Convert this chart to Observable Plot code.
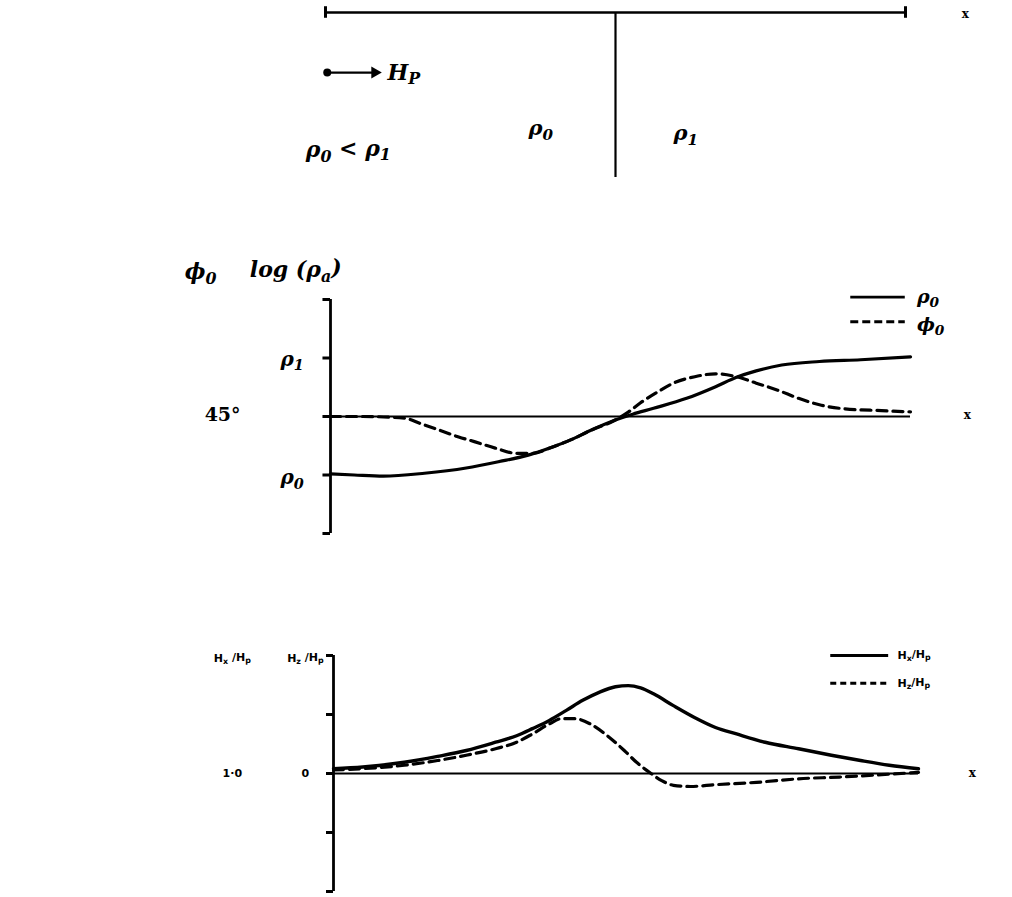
<!DOCTYPE html>
<html>
<head>
<meta charset="utf-8">
<script src="https://cdn.jsdelivr.net/npm/d3@7"></script>
<script src="https://cdn.jsdelivr.net/npm/@observablehq/plot@0.6"></script>
<style>
  body { margin: 0; background: #fff; }
  #wrap { position: relative; width: 1012px; height: 897px; overflow: hidden; }
  .panel { position: absolute; left: 0; }
</style>
</head>
<body>
<div id="wrap">
  <div class="panel" id="p1" style="top:0px"></div>
  <div class="panel" id="p2" style="top:240px"></div>
  <div class="panel" id="p3" style="top:600px"></div>
</div>
<script>
// ---------- data ----------
// Panel 2: apparent resistivity log(rho_a) and phase phi across a vertical contact at x = 5
const rhoX = [0, 0.41, 0.91, 1.62, 2.34, 2.91, 3.41, 3.78, 4.14, 4.48, 4.91, 5.21, 5.57, 6.14, 6.64, 7.0, 7.34, 7.78, 8.43, 9.14, 10];
const rhoY = [0.02, 0, -0.02, 0.03, 0.12, 0.23, 0.34, 0.46, 0.6, 0.76, 0.94, 1.04, 1.14, 1.31, 1.51, 1.67, 1.78, 1.88, 1.94, 1.97, 2.02];
const phiX = [0, 0.55, 1.28, 1.55, 1.84, 2.21, 2.48, 2.84, 3.21, 3.48, 3.78, 4.14, 4.48, 4.91, 5.14, 5.34, 5.64, 5.91, 6.28, 6.64, 7.0, 7.34, 7.71, 8.07, 8.43, 8.78, 9.5, 10];
const phiY = [1.0, 1.0, 0.97, 0.88, 0.78, 0.65, 0.57, 0.46, 0.37, 0.37, 0.46, 0.6, 0.76, 0.94, 1.08, 1.23, 1.42, 1.57, 1.68, 1.73, 1.68, 1.57, 1.45, 1.31, 1.2, 1.14, 1.1, 1.08];
const p2Ticks = [-1, 0, 1, 2, 3];
const p2TickLabels = [
  {x: -0.66, y: 1.97, t: "ρ_1"},
  {x: -0.66, y: -0.05, t: "ρ_0"}
];
const p2Degree = [{x: -1.86, y: 1.03, t: "45°"}];
const p2AxisTitles = [
  {x: -2.24, y: 3.47, t: "ϕ_0"},
  {x: -0.6, y: 3.5, t: "log (ρ_a)"}
];
const p2LegendSolid  = [{x1: 8.97, x2: 9.91, y: 3.04, t: "ρ_0"}];
const p2LegendDashed = [{x1: 8.97, x2: 9.91, y: 2.62, t: "ϕ_0"}];

// Panel 3: normalised magnetic field components
const hxX = [0, 0.5, 1.21, 1.78, 2.27, 2.77, 3.13, 3.4, 3.69, 3.98, 4.26, 4.55, 4.82, 5.04, 5.25, 5.47, 5.81, 6.17, 6.53, 6.89, 7.38, 7.95, 8.51, 9.01, 9.5, 10];
const hxY = [0.08, 0.11, 0.19, 0.29, 0.39, 0.53, 0.64, 0.76, 0.9, 1.07, 1.24, 1.38, 1.47, 1.49, 1.45, 1.35, 1.15, 0.95, 0.78, 0.67, 0.53, 0.42, 0.31, 0.22, 0.14, 0.08];
const hzX = [0, 1.21, 1.78, 2.27, 2.77, 3.13, 3.4, 3.69, 3.9, 4.12, 4.39, 4.68, 4.97, 5.18, 5.4, 5.61, 5.81, 6.1, 6.53, 7.23, 7.95, 8.65, 9.37, 10];
const hzY = [0.06, 0.14, 0.22, 0.31, 0.42, 0.53, 0.67, 0.84, 0.93, 0.93, 0.84, 0.64, 0.39, 0.19, 0.02, -0.12, -0.2, -0.22, -0.19, -0.15, -0.09, -0.06, -0.02, 0.02];
const p3Ticks = [-2, -1, 0, 1, 2];
const p3Labels = [
  {x: -1.73, y: 1.95, t: "H_x /H_p"},
  {x: -0.48, y: 1.95, t: "H_z /H_p"},
  {x: -1.73, y: 0, t: "1·0"},
  {x: -0.48, y: 0, t: "0"}
];
const p3LegendSolid  = [{x1: 8.5, x2: 9.49, y: 2.0, t: "H_x/H_p"}];
const p3LegendDashed = [{x1: 8.5, x2: 9.49, y: 1.53, t: "H_z/H_p"}];

// Panel 1: model sketch
const contactX = 5;
const p1LabelsStart = [
  {x: -0.34, y: 0.164, t: "ρ_0 < ρ_1"},
  {x: 1.07, y: 0.636, t: "H_P"}
];
const p1LabelsMid = [
  {x: 3.71, y: 0.297, t: "ρ_0"},
  {x: 6.21, y: 0.267, t: "ρ_1"}
];
const arrowH = [{x1: 0.03, x2: 0.83, tip: 0.85, y: 0.636}];

const rho = rhoX.map((x, i) => ({x, y: rhoY[i]}));
const phi = phiX.map((x, i) => ({x, y: phiY[i]}));
const hx  = hxX.map((x, i) => ({x, y: hxY[i]}));
const hz  = hzX.map((x, i) => ({x, y: hzY[i]}));

// ---------- helpers ----------
const SERIF = "'DejaVu Serif', 'Liberation Serif', serif";
const SANS = "'DejaVu Sans', sans-serif";
function subscripts(svg) {
  d3.select(svg).selectAll("text").each(function () {
    const t = this.textContent;
    if (!t.includes("_")) return;
    const parts = [];
    for (let i = 0; i < t.length; i++) {
      if (t[i] === "_" && i + 1 < t.length) { parts.push({s: t[i + 1], sub: true}); i++; }
      else {
        if (parts.length && !parts[parts.length - 1].sub) parts[parts.length - 1].s += t[i];
        else parts.push({s: t[i], sub: false});
      }
    }
    const el = d3.select(this);
    el.text(null);
    let shifted = false;
    for (const p of parts) {
      const ts = el.append("tspan").text(p.s);
      if (p.sub) {
        ts.attr("font-size", "72%");
        if (!shifted) { ts.attr("dy", "0.3em"); shifted = true; }
      } else if (shifted) { ts.attr("dy", "-0.3em"); shifted = false; }
    }
  });
  return svg;
}
const mathText = {fontStyle: "italic", fontWeight: "bold", fontFamily: SERIF};
const CURVE = "monotone-x";

// ---------- Panel 1 ----------
const p1 = Plot.plot({
  width: 1012, height: 190,
  marginLeft: 325, marginRight: 107, marginTop: 12, marginBottom: 13,
  x: {domain: [0, 10], axis: null},
  y: {domain: [0, 1], axis: null},
  marks: [
    Plot.ruleY([1], {x1: 0, x2: 10, strokeWidth: 2.5}),
    Plot.ruleX([0, 10], {y1: 0.965, y2: 1.035, strokeWidth: 3}),
    Plot.ruleX([contactX], {y1: 0, y2: 1, strokeWidth: 2.2}),
    Plot.ruleY(arrowH, {x1: "x1", x2: "x2", y: "y", strokeWidth: 2.2}),
    Plot.dot(arrowH, {x: "tip", y: "y", symbol: "triangle", rotate: 90, r: 4.5, fill: "black", stroke: "none"}),
    Plot.dot(arrowH, {x: "x1", y: "y", r: 4, fill: "black", stroke: "none"}),
    Plot.text(p1LabelsStart, {x: "x", y: "y", text: "t", textAnchor: "start", fontSize: 22, ...mathText}),
    Plot.text(p1LabelsMid, {x: "x", y: "y", text: "t", fontSize: 21, ...mathText}),
    Plot.text(["x"], {x: 11.03, y: 0.988, text: d => d, fontSize: 12, fontWeight: "bold", fontFamily: SERIF})
  ]
});
document.getElementById("p1").append(subscripts(p1));

// ---------- Panel 2 ----------
const p2 = Plot.plot({
  width: 1012, height: 320,
  marginLeft: 330, marginRight: 102, marginTop: 59, marginBottom: 27,
  x: {domain: [0, 10], axis: null},
  y: {domain: [-1, 3], axis: null},
  marks: [
    Plot.ruleX([0], {y1: -1, y2: 3, strokeWidth: 2.8}),
    Plot.ruleY(p2Ticks, {x1: -0.13, x2: 0, strokeWidth: 3}),
    Plot.ruleY([1], {x1: 0, x2: 10, strokeWidth: 1.8}),
    Plot.line(rho, {x: "x", y: "y", curve: CURVE, strokeWidth: 3.2}),
    Plot.line(phi, {x: "x", y: "y", curve: CURVE, strokeWidth: 3.2, strokeDasharray: "10,6"}),
    Plot.text(p2TickLabels, {x: "x", y: "y", text: "t", fontSize: 20, ...mathText}),
    Plot.text(p2Degree, {x: "x", y: "y", text: "t", fontSize: 19, fontWeight: "bold", fontFamily: SERIF}),
    Plot.text(p2AxisTitles, {x: "x", y: "y", text: "t", fontSize: 22, ...mathText}),
    Plot.ruleY(p2LegendSolid, {x1: "x1", x2: "x2", y: "y", strokeWidth: 2.8}),
    Plot.ruleY(p2LegendDashed, {x1: "x1", x2: "x2", y: "y", strokeWidth: 2.8, strokeDasharray: "8,4"}),
    Plot.text(p2LegendSolid, {x: d => d.x2 + 0.2, y: "y", text: "t", textAnchor: "start", fontSize: 19, ...mathText}),
    Plot.text(p2LegendDashed, {x: d => d.x2 + 0.2, y: "y", text: "t", textAnchor: "start", dy: 3, fontSize: 19, ...mathText}),
    Plot.text(["x"], {x: 10.98, y: 1.03, text: d => d, fontSize: 12, fontWeight: "bold", fontFamily: SERIF})
  ]
});
document.getElementById("p2").append(subscripts(p2));

// ---------- Panel 3 ----------
const p3 = Plot.plot({
  width: 1012, height: 297,
  marginLeft: 333, marginRight: 94, marginTop: 55, marginBottom: 6,
  x: {domain: [0, 10], axis: null},
  y: {domain: [-2, 2], axis: null},
  marks: [
    Plot.ruleX([0], {y1: -2, y2: 2, strokeWidth: 2.8}),
    Plot.ruleY(p3Ticks, {x1: -0.12, x2: 0, strokeWidth: 3}),
    Plot.ruleY([0], {x1: 0, x2: 10, strokeWidth: 1.8}),
    Plot.line(hx, {x: "x", y: "y", curve: CURVE, strokeWidth: 3.4}),
    Plot.line(hz, {x: "x", y: "y", curve: CURVE, strokeWidth: 3.2, strokeDasharray: "10,6"}),
    Plot.text(p3Labels, {x: "x", y: "y", text: "t", fontSize: 11, fontWeight: "bold", fontFamily: SANS}),
    Plot.ruleY(p3LegendSolid, {x1: "x1", x2: "x2", y: "y", strokeWidth: 2.8}),
    Plot.ruleY(p3LegendDashed, {x1: "x1", x2: "x2", y: "y", strokeWidth: 2.8, strokeDasharray: "6,4"}),
    Plot.text([...p3LegendSolid, ...p3LegendDashed], {x: d => d.x2 + 0.15, y: "y", text: "t", textAnchor: "start", fontSize: 11, fontWeight: "bold", fontFamily: SANS}),
    Plot.text(["x"], {x: 10.92, y: 0, text: d => d, fontSize: 12, fontWeight: "bold", fontFamily: SERIF})
  ]
});
document.getElementById("p3").append(subscripts(p3));
</script>
</body>
</html>
